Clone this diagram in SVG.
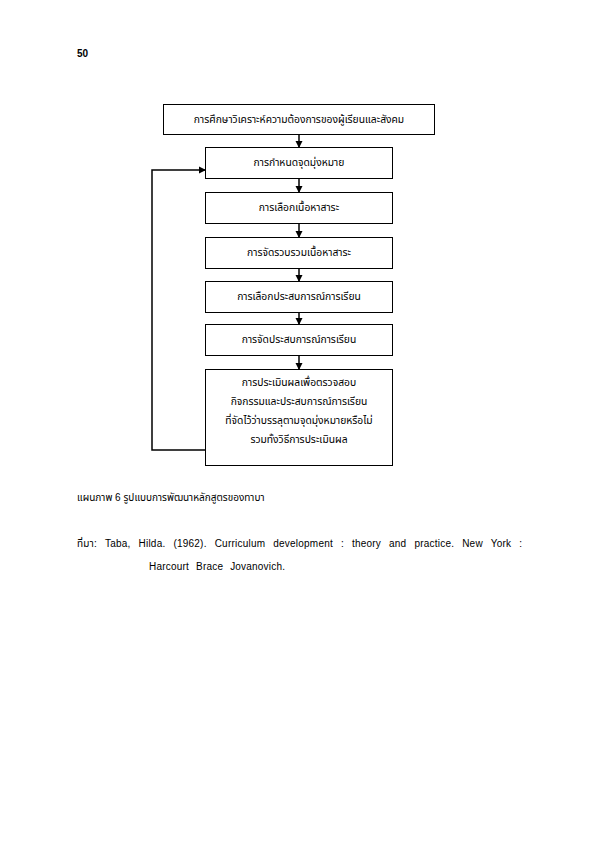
<svg xmlns="http://www.w3.org/2000/svg" width="595" height="842" viewBox="0 0 595 842">
<style>
.box{fill:#fff;stroke:#000;stroke-width:1}
.t{font-family:"Liberation Sans","Noto Sans Thai","Noto Sans",sans-serif;font-size:10.3px;fill:#000;text-anchor:middle}
.c{font-family:"Liberation Sans","Noto Sans Thai","Noto Sans",sans-serif;font-size:10px;fill:#000}
.ln{fill:none;stroke:#000;stroke-width:1.5}
</style>
<defs>
<marker id="ah" markerWidth="8" markerHeight="8" refX="6" refY="4" orient="auto" markerUnits="userSpaceOnUse">
<path d="M0,0.5 L7,4 L0,7.5 Z" fill="#000"/>
</marker>
</defs>
<rect width="595" height="842" fill="#fff"/>
<text class="c" x="77" y="57" font-weight="bold">50</text>
<g id="n1"><rect class="box" x="163.5" y="104.5" width="271" height="30"/><text class="t" x="299" y="123">การศึกษาวิเคราะห์ความต้องการของผู้เรียนและสังคม</text></g>
<g id="n2"><rect class="box" x="205.5" y="147.5" width="187" height="31"/><text class="t" x="299" y="166">การกำหนดจุดมุ่งหมาย</text></g>
<g id="n3"><rect class="box" x="205.5" y="192.5" width="187" height="31"/><text class="t" x="299" y="211">การเลือกเนื้อหาสาระ</text></g>
<g id="n4"><rect class="box" x="205.5" y="237.5" width="187" height="31"/><text class="t" x="299" y="256">การจัดรวบรวมเนื้อหาสาระ</text></g>
<g id="n5"><rect class="box" x="205.5" y="281.5" width="187" height="31"/><text class="t" x="299" y="300">การเลือกประสบการณ์การเรียน</text></g>
<g id="n6"><rect class="box" x="205.5" y="324.5" width="187" height="31"/><text class="t" x="299" y="343">การจัดประสบการณ์การเรียน</text></g>
<g id="n7"><rect class="box" x="205.5" y="369.5" width="187" height="96"/>
<text class="t" x="299" y="386">การประเมินผลเพื่อตรวจสอบ</text>
<text class="t" x="299" y="405">กิจกรรมและประสบการณ์การเรียน</text>
<text class="t" x="299" y="424">ที่จัดไว้ว่าบรรลุตามจุดมุ่งหมายหรือไม่</text>
<text class="t" x="299" y="443">รวมทั้งวิธีการประเมินผล</text></g>
<g id="connectors">
<line class="ln" x1="299" y1="135" x2="299" y2="147" marker-end="url(#ah)"/>
<line class="ln" x1="299" y1="179" x2="299" y2="192" marker-end="url(#ah)"/>
<line class="ln" x1="299" y1="224" x2="299" y2="237" marker-end="url(#ah)"/>
<line class="ln" x1="299" y1="269" x2="299" y2="281" marker-end="url(#ah)"/>
<line class="ln" x1="299" y1="313" x2="299" y2="324" marker-end="url(#ah)"/>
<line class="ln" x1="299" y1="356" x2="299" y2="369" marker-end="url(#ah)"/>
<polyline class="ln" points="205,450 152,450 152,170 205,170" marker-end="url(#ah)"/>
</g>
<text class="c" x="77" y="501" font-size="11.5">แผนภาพ 6 รูปแบบการพัฒนาหลักสูตรของทาบา</text>
<text class="c" x="77" y="547" word-spacing="5" textLength="445" lengthAdjust="spacing">ที่มา:  Taba, Hilda. (1962). Curriculum development : theory and practice. New York :</text>
<text class="c" x="149" y="570" word-spacing="4" textLength="136" lengthAdjust="spacing">Harcourt Brace Jovanovich.</text>
</svg>
